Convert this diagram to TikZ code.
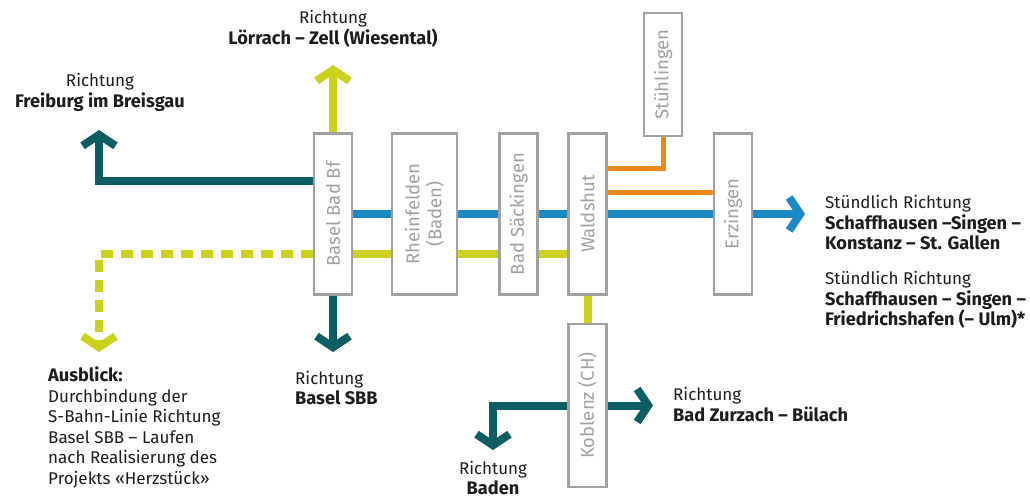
\documentclass[tikz,border=0pt]{standalone}
\usepackage{fontspec}
\setmainfont{Fira Sans}[BoldFeatures={Scale=1.07}]
\usetikzlibrary{positioning}
\usetikzlibrary{arrows.meta}
\usetikzlibrary{calc}
\usetikzlibrary{backgrounds}

\definecolor{boxgray}{HTML}{A0A1A3}
\definecolor{lineteal}{HTML}{0C5E62}
\definecolor{lineyellow}{HTML}{CBD11C}
\definecolor{lineblue}{HTML}{1A8BC4}
\definecolor{lineorange}{HTML}{EE8A14}
\definecolor{textdark}{HTML}{1C1C1C}

\tikzset{
  station/.style={draw=boxgray, line width=2.8pt, fill=white, rotate=90,
    minimum height=38pt, inner sep=0pt, text=boxgray, align=center,
    font=\fontsize{18.5}{22}\selectfont},
  route/.style={line width=8pt},
  branch/.style={line width=5pt, lineorange},
  chevron/.style={-{Straight Barb[sharp,length=11pt,width=33pt]}},
  dirtext/.style={inner sep=0pt, text=textdark,
    font=\fontsize{17}{20.5}\selectfont},
}

\begin{document}
\begin{tikzpicture}[x=1pt,y=-1pt]
\useasboundingbox (0,0) rectangle (1030,499);

% stations
\node[station, minimum width=161pt] (basel) at (333,214) {Basel Bad Bf};
\node[station, minimum width=161pt, minimum height=65pt] (rheinfelden) at (424.5,214) {Rheinfelden\\(Baden)};
\node[station, minimum width=161pt] (saeckingen) at (518.5,214) {Bad Säckingen};
\node[station, minimum width=161pt] (waldshut) at (587.5,214) {Waldshut};
\node[station, minimum width=161pt] (erzingen) at (733,214) {Erzingen};
\node[station, minimum width=123pt] (stuehlingen) at (663,74.5) {Stühlingen};
\node[station, minimum width=163pt] (koblenz) at (587.5,405.5) {Koblenz (CH)};

% free ends
\coordinate (ylevel) at (0,254);
\coordinate (tlevel) at (0,181);
\coordinate (olevel) at (0,168);
\coordinate (o2level) at (0,192);
\coordinate (loerrachtip) at (333,65);
\coordinate (freiburgtip) at (99,130);
\coordinate (ausblicktip) at (99,352);
\coordinate (sbbtip) at (333,352);
\coordinate (schaffhausentip) at (805,214);
\coordinate (badentip) at (493,450);
\coordinate (buelachtip) at (653,405.5);

\begin{scope}[on background layer]
\draw[route, lineblue, chevron] (basel) -- (schaffhausentip);
\draw[route, lineyellow] (basel.center |- ylevel) -- (waldshut.center |- ylevel);
\draw[route, lineyellow, chevron, dash pattern=on 12pt off 8pt] (basel.center |- ylevel) -| (ausblicktip);
\draw[route, lineyellow, chevron] (basel) -- (loerrachtip);
\draw[route, lineteal, chevron] (basel.center |- tlevel) -| (freiburgtip);
\draw[route, lineteal, chevron] (basel) -- (sbbtip);
\draw[branch] (waldshut.center |- olevel) -| (stuehlingen);
\draw[branch] (waldshut.center |- o2level) -- (erzingen.center |- o2level);
\draw[route, lineyellow] (waldshut) -- (koblenz);
\draw[route, lineteal, chevron] (koblenz) -| (badentip);
\draw[route, lineteal, chevron] (koblenz) -- (buelachtip);
\end{scope}

% directions
\node[dirtext, align=center] (loerrach) at (333,29) {Richtung\\\textbf{Lörrach – Zell (Wiesental)}};
\node[dirtext, align=center] (freiburg) at (100,92.5) {Richtung\\\textbf{Freiburg im Breisgau}};
\node[dirtext, align=left, anchor=west] (konstanz) at (825,223) {Stündlich Richtung\\\textbf{Schaffhausen –Singen –}\\\textbf{Konstanz – St. Gallen}};
\node[dirtext, align=left, anchor=west] (friedrichshafen) at (825,300) {Stündlich Richtung\\\textbf{Schaffhausen – Singen –}\\\textbf{Friedrichshafen (– Ulm)*}};
\node[dirtext, align=left, anchor=west] (baselsbb) at (295,388) {Richtung\\\textbf{Basel SBB}};
\node[dirtext, align=left, anchor=west] (ausblick) at (48,427.5) {\textbf{Ausblick:}\\Durchbindung der\\S-Bahn-Linie Richtung\\Basel SBB – Laufen\\nach Realisierung des\\Projekts «Herzstück»};
\node[dirtext, align=left, anchor=west] (buelach) at (673,404.5) {Richtung\\\textbf{Bad Zurzach – Bülach}};
\node[dirtext, align=center] (baden) at (493,478) {Richtung\\\textbf{Baden}};
\end{tikzpicture}
\end{document}
